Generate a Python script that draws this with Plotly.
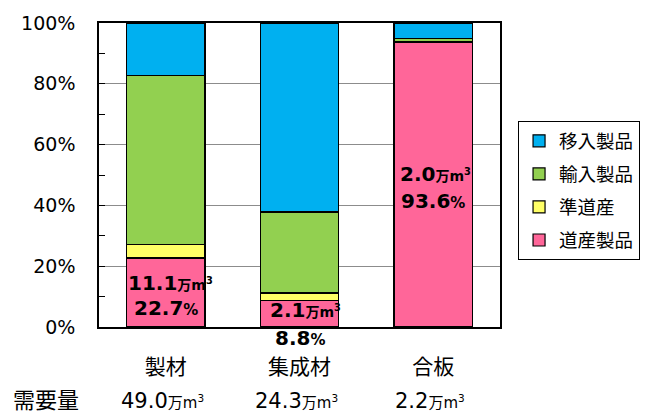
import plotly.graph_objects as go

categories = ["製材", "集成材", "合板"]
series_names = ["道産製品", "準道産", "輸入製品", "移入製品"]
dosan = [22.7, 8.8, 93.6]
jundosan = [4.4, 2.4, 0.2]
yunyu = [55.7, 26.6, 1.2]
inyu = [17.2, 62.2, 5.0]
dosan_vol = ["11.1", "2.1", "2.0"]
demand = ["49.0", "24.3", "2.2"]
colors = ["#FF6699", "#FFFF66", "#92D050", "#00B0F0"]

FONT = "Verdana, 'DejaVu Sans', 'Noto Sans CJK JP', sans-serif"

fig = go.Figure()
for k, (name, vals, col) in enumerate(zip(series_names, [dosan, jundosan, yunyu, inyu], colors)):
    fig.add_trace(go.Bar(
        x=categories, y=[v / 100 for v in vals], name=name, legendgroup=name,
        legendrank=1000 - k,
        marker=dict(color=col, line=dict(color="black", width=1.2)),
        width=0.585, hoverinfo="skip",
    ))

unit_b = "<span style='font-size:14px'>万m<sup>3</sup></span>"
unit_p = "<span style='font-size:15px'>%</span>"
# label positions (paper units) for each bar: (line1 y, line2 y)
label_pos = [(0.146, 0.061), (0.055, -0.036), (0.502, 0.414)]
label_dx = [5, 6, 2]
for i, cat in enumerate(categories):
    y1, y2 = label_pos[i]
    fig.add_annotation(x=cat, y=y1, xref="x", yref="paper", showarrow=False,
                       xanchor="center", yanchor="middle",
                       text=f"<b>{dosan_vol[i]}{unit_b}</b>", xshift=label_dx[i],
                       font=dict(size=20, color="black", family=FONT))
    fig.add_annotation(x=cat, y=y2, xref="x", yref="paper", showarrow=False,
                       xanchor="center", yanchor="middle",
                       text=f"<b>{dosan[i]}{unit_p}</b>",
                       font=dict(size=20, color="black", family=FONT))
    fig.add_annotation(x=cat, y=-0.243, xref="x", yref="paper", showarrow=False,
                       xanchor="center", yanchor="middle", xshift=-3,
                       text=f"{demand[i]}<span style='font-size:15px'>万m<sup>3</sup></span>",
                       font=dict(size=21, color="black", family=FONT))

fig.add_annotation(x=-0.131, y=-0.243, xref="paper", yref="paper", showarrow=False,
                   xanchor="center", yanchor="middle",
                   text="需要量", font=dict(size=22, color="black", family=FONT))

fig.update_layout(
    width=652, height=414,
    margin=dict(l=99, r=140, t=18, b=87),
    barmode="stack", bargap=0.415,
    plot_bgcolor="white", paper_bgcolor="white",
    font=dict(family=FONT, color="black", size=19),
    showlegend=True,
    legend=dict(x=1.045, xanchor="left", y=0.448, yanchor="middle",
                bordercolor="black", borderwidth=1,
                font=dict(size=18.5, family=FONT), traceorder="grouped",
                itemwidth=30, tracegroupgap=6),
)
fig.update_xaxes(showline=True, linecolor="black", linewidth=1.5, mirror=True,
                 ticks="", tickfont=dict(size=21), ticklabelstandoff=20)
fig.update_yaxes(range=[0, 1], dtick=0.2, tickformat=".0%",
                 showline=True, linecolor="black", linewidth=1.5, mirror=True,
                 showgrid=True, gridcolor="#8c8c8c", gridwidth=1.2,
                 ticks="inside", ticklen=6, tickcolor="black",
                 minor=dict(dtick=0.1, ticks="inside", ticklen=6, tickcolor="black", showgrid=False),
                 tickfont=dict(size=19), ticklabelstandoff=18, zeroline=False)

fig.write_html("out.html")
